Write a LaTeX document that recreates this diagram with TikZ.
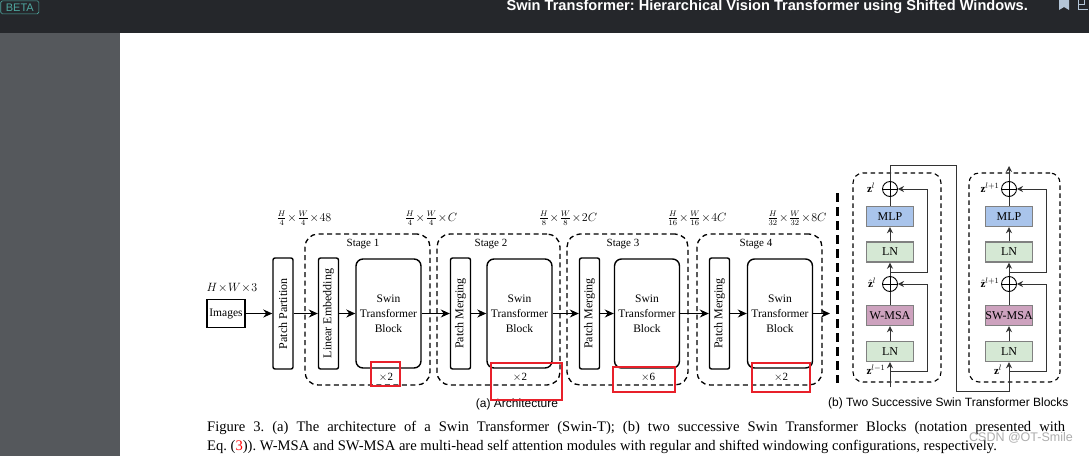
\documentclass[tikz,border=0pt]{standalone}
\usepackage{fontspec}
\setmainfont{Liberation Serif}
\setsansfont{Liberation Sans}
\usepackage{amsmath}
\usetikzlibrary{positioning, arrows.meta, backgrounds}

\definecolor{hdr}{HTML}{25272B}
\definecolor{side}{HTML}{55585C}
\definecolor{beta}{HTML}{4FA8A0}
\definecolor{icon}{HTML}{B4C6D8}
\definecolor{mlpblue}{HTML}{A9C4EB}
\definecolor{lngreen}{HTML}{D5E8D4}
\definecolor{msapink}{HTML}{CDA2BE}
\definecolor{redbox}{HTML}{E8202A}

\begin{document}
\frenchspacing
\begin{tikzpicture}[x=1pt, y=-1pt,
      box/.style={draw, line width=1.4pt, rounded corners=7pt, align=center, minimum width=65pt, minimum height=109pt, inner sep=0pt, font=\fontsize{11.5}{15}\selectfont},
      bar/.style={draw, line width=1.4pt, rounded corners=2pt, rotate=90, minimum width=111pt, minimum height=20pt, inner sep=0pt, font=\fontsize{12}{12}\selectfont},
      stage/.style={draw, line width=1.3pt, dash pattern=on 5pt off 3.5pt, rounded corners=13pt},
      group/.style={draw, line width=1.1pt, dash pattern=on 4.5pt off 3.5pt, rounded corners=10pt},
      hi/.style={draw=redbox, line width=1.6pt},
      flow/.style={line width=1.4pt, -{Stealth[length=9pt, width=8pt]}},
      op/.style={draw=black!50, line width=1.4pt, minimum width=47pt, minimum height=20pt, inner sep=0pt, font=\fontsize{12}{12}\selectfont},
      add/.style={draw, circle, line width=0.9pt, minimum size=15pt, inner sep=0pt,
        path picture={\draw[line width=0.9pt] (path picture bounding box.north) -- (path picture bounding box.south) (path picture bounding box.west) -- (path picture bounding box.east);}},
      link/.style={draw=black!80, line width=1pt},
      res/.style={link, -{Stealth[length=6pt, width=6pt]}},
      lbl/.style={font=\fontsize{11}{13}\selectfont},
      dim/.style={font=\fontsize{12}{13}\selectfont},
      zlbl/.style={font=\fontsize{11}{12}\selectfont}]

    \useasboundingbox (0,0) rectangle (1089,456);
    \fill[white] (0,0) rectangle (1089,456);
    \fill[hdr] (0,0) rectangle (1089,33);
    \fill[side] (0,33) rectangle (120,456);
    \node[draw=beta, line width=0.7pt, rounded corners=1.5pt, text=beta, font=\sffamily\fontsize{11}{11}\selectfont, minimum width=38pt, minimum height=13pt, inner sep=0pt, anchor=north west] (beta) at (0.5,0.5) {BETA};
    \node[text=white, font=\sffamily\bfseries\fontsize{14.6}{15}\selectfont, anchor=east, inner sep=0pt] (title) at (1028,7) {Swin Transformer: Hierarchical Vision Transformer using Shifted Windows.};
    \fill[icon] (1059,0) -- (1059,10) -- (1064,7) -- (1069,10) -- (1069,0) -- cycle;
    \draw[icon, line width=0.8pt] (1078,0) -- (1078,9) -- (1088,9) (1078,4) -- (1084,4) -- (1084,0);

    \node[stage, minimum width=125pt, minimum height=151pt] (st1) at (367.5,309.5) {};
    \node[stage, minimum width=123pt, minimum height=151pt] (st2) at (498.5,309.5) {};
    \node[stage, minimum width=121pt, minimum height=151pt] (st3) at (627.5,309.5) {};
    \node[stage, minimum width=125pt, minimum height=151pt] (st4) at (759.5,309.5) {};
    \node[lbl] (st1lbl) at (363,244) {Stage 1};
    \node[lbl] (st2lbl) at (491,244) {Stage 2};
    \node[lbl] (st3lbl) at (623,244) {Stage 3};
    \node[lbl] (st4lbl) at (756,244) {Stage 4};

    \node[draw, line width=1.4pt, minimum width=38pt, minimum height=28pt, inner sep=0pt, font=\fontsize{11.5}{12}\selectfont] (img) at (226,313.5) {Images};
    \node[font=\fontsize{12.5}{13}\selectfont] (imgdim) at (232,288) {$H\!\times\! W\!\times\! 3$};
    \node[bar] (pp) at (283,313.5) {Patch Partition};
    \node[bar] (le) at (328.5,313.5) {Linear Embedding};
    \node[box] (b1) at (388.5,313.5) {Swin\\Transformer\\Block};
    \node[bar] (pm2) at (460.5,313.5) {Patch Merging};
    \node[box] (b2) at (519.5,313.5) {Swin\\Transformer\\Block};
    \node[bar] (pm3) at (589.5,313.5) {Patch Merging};
    \node[box] (b3) at (647,313.5) {Swin\\Transformer\\Block};
    \node[bar] (pm4) at (719.5,313.5) {Patch Merging};
    \node[box] (b4) at (780,313.5) {Swin\\Transformer\\Block};
    \coordinate (out) at (830,313.5);

    \node[lbl] (n1) at (386,377) {$\times$2};
    \node[lbl] (n2) at (520,377) {$\times$2};
    \node[lbl] (n3) at (648,377) {$\times$6};
    \node[lbl] (n4) at (781,377) {$\times$2};

    \node[dim] (d0) at (304,218) {$\frac{H}{4}\!\times\!\frac{W}{4}\!\times\!48$};
    \node[dim] (d1) at (431,218) {$\frac{H}{4}\!\times\!\frac{W}{4}\!\times\!C$};
    \node[dim] (d2) at (568,218) {$\frac{H}{8}\!\times\!\frac{W}{8}\!\times\!2C$};
    \node[dim] (d3) at (697,218) {$\frac{H}{16}\!\times\!\frac{W}{16}\!\times\!4C$};
    \node[dim] (d4) at (797,218) {$\frac{H}{32}\!\times\!\frac{W}{32}\!\times\!8C$};

    \draw[flow] (img) -- (pp);
    \draw[flow] (pp) -- (le);
    \draw[flow] (le) -- (b1);
    \draw[flow] (b1) -- (pm2);
    \draw[flow] (pm2) -- (b2);
    \draw[flow] (b2) -- (pm3);
    \draw[flow] (pm3) -- (b3);
    \draw[flow] (b3) -- (pm4);
    \draw[flow] (pm4) -- (b4);
    \draw[flow] (b4) -- (out);

    \draw[line width=3pt, dash pattern=on 9pt off 5pt] (837,193) -- (837,383);

    \node[group, minimum width=88pt, minimum height=209pt] (blk1) at (897,277.5) {};
    \node[group, minimum width=91pt, minimum height=209pt] (blk2) at (1014.5,277.5) {};

    \node[op, fill=lngreen] (ln1) at (890,351.5) {LN};
    \node[op, fill=msapink] (wmsa) at (890,315.5) {W-MSA};
    \node[add] (a1) at (890,284) {};
    \node[op, fill=lngreen] (ln2) at (890,252) {LN};
    \node[op, fill=mlpblue] (mlp1) at (890,216.5) {MLP};
    \node[add] (a2) at (890,189) {};
    \coordinate (in1) at (890,387);
    \coordinate (k1) at (890,371);
    \coordinate (k2) at (890,272);

    \node[op, fill=lngreen] (ln3) at (1009,351.5) {LN};
    \node[op, fill=msapink] (swmsa) at (1009,315.5) {SW-MSA};
    \node[add] (a3) at (1009,284) {};
    \node[op, fill=lngreen] (ln4) at (1009,252) {LN};
    \node[op, fill=mlpblue] (mlp2) at (1009,216.5) {MLP};
    \node[add] (a4) at (1009,189) {};
    \coordinate (k3) at (1009,371);
    \coordinate (k4) at (1009,272);
    \coordinate (out2) at (1009,166);

    \draw[res] (in1) -- (ln1);
    \draw[res] (ln1) -- (wmsa);
    \draw[link] (wmsa) -- (a1);
    \draw[res] (a1) -- (ln2);
    \draw[res] (ln2) -- (mlp1);
    \draw[link] (mlp1) -- (a2);
    \draw[res] (k1) -- ++(37,0) |- (a1.east);
    \draw[res] (k2) -- ++(37,0) |- (a2.east);
    \draw[res] (a2.north) |- (956,165) |- (1009,391) -- (ln3.south);
    \draw[res] (ln3) -- (swmsa);
    \draw[link] (swmsa) -- (a3);
    \draw[res] (a3) -- (ln4);
    \draw[res] (ln4) -- (mlp2);
    \draw[link] (mlp2) -- (a4);
    \draw[res] (k3) -- ++(37,0) |- (a3.east);
    \draw[res] (k4) -- ++(37,0) |- (a4.east);
    \draw[res] (a4) -- (out2);

    \node[zlbl] (z1) at (871,188) {$\mathbf{z}^l$};
    \node[zlbl] (zh1) at (872,283) {$\hat{\mathbf{z}}^l$};
    \node[zlbl] (z0) at (876,370) {$\mathbf{z}^{l-1}$};
    \node[zlbl] (z2) at (990,188) {$\mathbf{z}^{l+1}$};
    \node[zlbl] (zh2) at (990,283) {$\hat{\mathbf{z}}^{l+1}$};
    \node[zlbl] (z3) at (998,370) {$\mathbf{z}^l$};

    \node[font=\sffamily\fontsize{12}{14}\selectfont] (capa) at (517,404) {(a) Architecture};
    \node[font=\sffamily\fontsize{12}{14}\selectfont, anchor=east] (capb) at (1072,403) {(b) Two Successive Swin Transformer Blocks};

    \draw[hi] (371,362) rectangle (400,386);
    \draw[hi] (491,363) rectangle (562,400);
    \draw[hi] (613,367) rectangle (675,392);
    \draw[hi] (752,363) rectangle (810,392);

    \node[anchor=west, inner sep=0pt, font=\fontsize{14.6}{16}\selectfont] (cap1) at (207,428) {\makebox[858pt][s]{Figure 3. (a) The architecture of a Swin Transformer (Swin-T); (b) two successive Swin Transformer Blocks (notation presented with}};
    \node[anchor=west, inner sep=0pt, font=\fontsize{14.6}{16}\selectfont] (cap2) at (207,447) {Eq. (\textcolor{red}{3})). W-MSA and SW-MSA are multi-head self attention modules with regular and shifted windowing configurations, respectively.};
    \node[text=gray!75, opacity=0.85, font=\sffamily\fontsize{12.5}{13}\selectfont, anchor=east, inner sep=0pt] (wm) at (1073,438) {CSDN @OT-Smile};
  \end{tikzpicture}
\end{document}
